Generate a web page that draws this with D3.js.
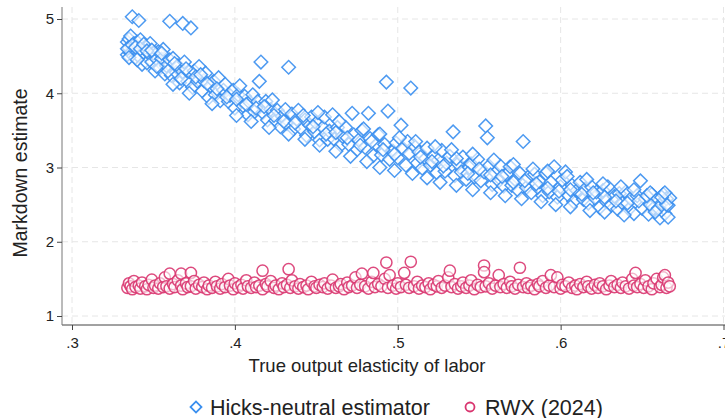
<!DOCTYPE html>
<html>
<head>
<meta charset="utf-8">
<script src="https://cdn.jsdelivr.net/npm/d3@7"></script>
<style>
  body { margin: 0; background: #fff; }
  svg { display: block; font-family: "Liberation Sans", Arial, sans-serif; }
</style>
</head>
<body>
<div id="chart"></div>
<script>
// values, [elasticity, markdown]
var hicks = [
  [0.334,4.69],[0.334,4.52],[0.335,4.73],[0.335,4.61],[0.336,4.77],[0.336,4.54],[0.337,5.03],[0.338,4.67],
  [0.339,4.48],[0.340,4.69],[0.341,4.98],[0.341,4.50],[0.342,4.72],[0.343,4.39],[0.344,4.55],[0.345,4.62],
  [0.346,4.41],[0.347,4.54],[0.348,4.67],[0.349,4.42],[0.350,4.54],[0.351,4.30],[0.352,4.46],[0.353,4.56],
  [0.354,4.34],[0.355,4.46],[0.356,4.59],[0.357,4.26],[0.358,4.37],[0.360,4.97],[0.360,4.45],[0.361,4.24],
  [0.362,4.47],[0.364,4.28],[0.365,4.37],[0.366,4.14],[0.368,4.94],[0.368,4.29],[0.369,4.42],[0.371,4.16],
  [0.372,4.29],[0.373,4.88],[0.374,4.08],[0.375,4.30],[0.377,4.16],[0.378,4.36],[0.380,4.03],[0.381,4.17],
  [0.382,4.27],[0.384,3.94],[0.385,4.10],[0.387,4.16],[0.388,3.98],[0.390,4.21],[0.391,3.90],[0.393,4.04],
  [0.394,4.12],[0.396,3.89],[0.397,3.97],[0.399,4.04],[0.400,3.80],[0.402,3.98],[0.403,4.10],[0.405,3.83],
  [0.406,3.96],[0.408,3.71],[0.409,3.88],[0.411,3.98],[0.412,3.75],[0.414,3.89],[0.415,4.16],[0.416,4.42],
  [0.417,3.74],[0.419,3.89],[0.420,3.64],[0.422,3.78],[0.423,3.91],[0.425,3.63],[0.426,3.77],[0.428,3.55],
  [0.429,3.69],[0.431,3.78],[0.432,3.59],[0.433,4.35],[0.435,3.72],[0.436,3.52],[0.438,3.65],[0.439,3.77],
  [0.441,3.52],[0.443,3.64],[0.444,3.43],[0.446,3.57],[0.447,3.68],[0.449,3.48],[0.450,3.60],[0.452,3.37],
  [0.454,3.54],[0.455,3.68],[0.457,3.38],[0.458,3.49],[0.460,3.71],[0.461,3.38],[0.463,3.54],[0.465,3.30],
  [0.466,3.42],[0.468,3.54],[0.470,3.31],[0.472,3.73],[0.473,3.44],[0.475,3.24],[0.476,3.37],[0.478,3.50],
  [0.480,3.27],[0.482,3.73],[0.483,3.39],[0.485,3.16],[0.487,3.31],[0.488,3.44],[0.490,3.17],[0.492,3.31],
  [0.493,4.15],[0.494,3.76],[0.495,3.11],[0.497,3.22],[0.499,3.33],[0.500,3.13],[0.502,3.57],[0.503,3.26],
  [0.505,3.03],[0.507,3.19],[0.508,4.07],[0.510,3.29],[0.512,3.06],[0.513,3.21],[0.515,2.99],[0.517,3.12],
  [0.518,3.26],[0.520,3.03],[0.522,3.15],[0.524,2.93],[0.525,3.10],[0.527,3.23],[0.529,2.95],[0.530,3.06],
  [0.532,3.15],[0.534,3.48],[0.535,2.89],[0.537,3.05],[0.539,2.94],[0.540,3.14],[0.542,2.84],[0.544,3.00],
  [0.545,3.05],[0.547,2.87],[0.549,3.11],[0.551,2.82],[0.553,2.94],[0.554,3.56],[0.555,3.40],[0.556,3.02],
  [0.558,2.77],[0.560,2.93],[0.562,2.82],[0.563,3.02],[0.565,2.75],[0.567,2.91],[0.569,3.01],[0.570,2.76],
  [0.572,2.84],[0.574,2.69],[0.575,2.92],[0.577,3.35],[0.579,2.73],[0.580,2.87],[0.582,2.66],[0.584,2.91],
  [0.586,2.73],[0.587,2.81],[0.589,2.62],[0.591,2.92],[0.593,2.67],[0.594,2.80],[0.596,3.01],[0.598,2.60],
  [0.600,2.74],[0.601,2.83],[0.603,2.94],[0.605,2.62],[0.607,2.76],[0.608,2.54],[0.610,2.69],[0.612,2.80],
  [0.614,2.57],[0.615,2.71],[0.617,2.52],[0.619,2.74],[0.621,2.59],[0.622,2.67],[0.624,2.46],[0.626,2.69],
  [0.628,2.54],[0.629,2.74],[0.631,2.49],[0.633,2.61],[0.635,2.44],[0.636,2.65],[0.638,2.52],[0.640,2.67],
  [0.642,2.44],[0.643,2.58],[0.645,2.38],[0.647,2.62],[0.649,2.82],[0.650,2.45],[0.652,2.58],[0.654,2.37],
  [0.656,2.64],[0.657,2.45],[0.659,2.57],[0.661,2.32],[0.662,2.52],[0.663,2.64],[0.664,2.38],[0.665,2.58],
  [0.666,2.33],[0.666,2.49],[0.667,2.59],
  [0.334,4.60],[0.335,4.48],[0.337,4.65],[0.339,4.62],[0.340,4.45],[0.342,4.60],[0.344,4.66],[0.346,4.57],
  [0.349,4.58],[0.352,4.36],[0.355,4.54],[0.359,4.30],[0.363,4.40],[0.367,4.20],[0.370,4.33],[0.376,4.22],
  [0.379,4.25],[0.383,4.13],[0.389,4.06],[0.395,3.95],[0.401,3.92],[0.407,3.85],[0.413,3.80],[0.418,3.82],
  [0.424,3.70],[0.430,3.62],[0.437,3.60],[0.442,3.70],[0.448,3.55],[0.456,3.45],[0.462,3.47],[0.469,3.40],
  [0.477,3.30],[0.484,3.35],[0.491,3.24],[0.498,3.18],[0.506,3.35],[0.514,3.14],[0.521,3.08],[0.528,3.02],
  [0.536,3.12],[0.543,2.92],[0.550,2.98],[0.557,2.90],[0.564,2.88],[0.571,2.80],[0.578,2.82],[0.585,2.78],
  [0.592,2.72],[0.599,2.68],[0.606,2.70],[0.613,2.64],[0.620,2.66],[0.627,2.60],[0.634,2.55],[0.641,2.52],
  [0.648,2.55],[0.655,2.50],[0.660,2.45],[0.665,2.50],[0.662,2.60],[0.658,2.40],[0.653,2.62],
  [0.362,4.12],[0.372,4.00],[0.386,3.86],[0.401,3.70],[0.410,3.62],[0.421,3.54],[0.433,3.45],[0.443,3.38],
  [0.452,3.30],[0.462,3.22],[0.471,3.15],[0.481,3.08],[0.489,3.00],[0.498,2.96],[0.509,2.92],[0.518,2.86],
  [0.526,2.80],[0.536,2.76],[0.546,2.70],[0.557,2.66],[0.566,2.62],[0.576,2.58],[0.588,2.54],[0.597,2.50],
  [0.606,2.47],[0.618,2.42],[0.627,2.40],[0.639,2.36],
  [0.451,3.74],[0.464,3.62],[0.479,3.52],[0.489,3.45],[0.501,3.40],[0.511,3.35],[0.523,3.28],[0.533,3.24],
  [0.546,3.18],[0.559,3.10],[0.571,3.04],[0.583,2.98],[0.592,2.95],[0.604,2.88],[0.616,2.84],[0.626,2.78],
  [0.637,2.74],[0.645,2.70],[0.655,2.66],[0.664,2.66]
];

var rwx = [
  [0.334,1.38],[0.335,1.44],[0.336,1.40],[0.337,1.36],[0.338,1.47],[0.339,1.39],[0.341,1.41],[0.342,1.37],
  [0.343,1.45],[0.345,1.40],[0.346,1.36],[0.347,1.42],[0.349,1.49],[0.350,1.38],[0.351,1.41],[0.353,1.37],
  [0.354,1.44],[0.356,1.39],[0.357,1.52],[0.358,1.40],[0.360,1.57],[0.360,1.37],[0.362,1.43],[0.363,1.39],
  [0.365,1.48],[0.367,1.57],[0.367,1.41],[0.368,1.36],[0.370,1.44],[0.371,1.39],[0.373,1.58],[0.373,1.40],
  [0.375,1.47],[0.376,1.37],[0.378,1.42],[0.380,1.39],[0.381,1.45],[0.383,1.36],[0.384,1.41],[0.386,1.38],
  [0.388,1.46],[0.389,1.40],[0.391,1.37],[0.392,1.43],[0.394,1.39],[0.396,1.50],[0.397,1.41],[0.399,1.36],
  [0.400,1.44],[0.402,1.39],[0.404,1.42],[0.405,1.37],[0.407,1.48],[0.408,1.40],[0.410,1.38],[0.412,1.45],
  [0.413,1.39],[0.415,1.41],[0.417,1.61],[0.417,1.36],[0.419,1.43],[0.420,1.40],[0.422,1.47],[0.424,1.38],
  [0.425,1.41],[0.427,1.36],[0.429,1.44],[0.430,1.39],[0.432,1.42],[0.433,1.63],[0.434,1.38],[0.435,1.48],
  [0.437,1.40],[0.439,1.37],[0.440,1.43],[0.442,1.39],[0.444,1.41],[0.445,1.36],[0.447,1.46],[0.449,1.40],
  [0.450,1.38],[0.452,1.42],[0.454,1.39],[0.455,1.44],[0.457,1.37],[0.459,1.41],[0.460,1.49],[0.462,1.38],
  [0.464,1.40],[0.465,1.43],[0.467,1.36],[0.469,1.45],[0.470,1.39],[0.472,1.41],[0.474,1.52],[0.475,1.38],
  [0.477,1.42],[0.478,1.57],[0.480,1.40],[0.482,1.37],[0.484,1.46],[0.485,1.58],[0.486,1.39],[0.488,1.43],
  [0.490,1.40],[0.492,1.50],[0.493,1.72],[0.494,1.38],[0.495,1.55],[0.497,1.41],[0.499,1.37],[0.500,1.44],
  [0.502,1.39],[0.504,1.58],[0.505,1.42],[0.507,1.38],[0.508,1.73],[0.510,1.40],[0.512,1.46],[0.513,1.37],
  [0.515,1.41],[0.517,1.39],[0.519,1.44],[0.520,1.36],[0.522,1.42],[0.524,1.40],[0.525,1.47],[0.527,1.38],
  [0.529,1.41],[0.531,1.52],[0.532,1.61],[0.533,1.39],[0.535,1.43],[0.537,1.37],[0.539,1.40],[0.540,1.45],
  [0.542,1.38],[0.544,1.41],[0.545,1.48],[0.547,1.36],[0.549,1.42],[0.551,1.39],[0.553,1.68],[0.553,1.59],
  [0.554,1.40],[0.556,1.44],[0.558,1.37],[0.560,1.41],[0.562,1.55],[0.563,1.39],[0.565,1.43],[0.567,1.38],
  [0.569,1.46],[0.570,1.40],[0.572,1.37],[0.574,1.42],[0.575,1.65],[0.577,1.39],[0.579,1.44],[0.580,1.38],
  [0.582,1.41],[0.584,1.36],[0.586,1.43],[0.587,1.40],[0.589,1.47],[0.591,1.38],[0.593,1.41],[0.594,1.55],
  [0.596,1.39],[0.598,1.52],[0.600,1.37],[0.601,1.42],[0.603,1.40],[0.605,1.45],[0.607,1.38],[0.609,1.41],
  [0.610,1.36],[0.612,1.43],[0.614,1.39],[0.616,1.46],[0.617,1.40],[0.619,1.37],[0.621,1.42],[0.623,1.38],
  [0.624,1.44],[0.626,1.40],[0.628,1.36],[0.630,1.41],[0.631,1.47],[0.633,1.39],[0.635,1.42],[0.637,1.38],
  [0.638,1.45],[0.640,1.40],[0.642,1.37],[0.644,1.50],[0.645,1.41],[0.646,1.58],[0.647,1.39],[0.649,1.43],
  [0.651,1.38],[0.652,1.48],[0.654,1.40],[0.656,1.36],[0.657,1.44],[0.659,1.50],[0.661,1.39],[0.662,1.42],
  [0.663,1.52],[0.664,1.55],[0.665,1.38],[0.666,1.45],[0.667,1.40]
];

var xTicks = [0.3, 0.4, 0.5, 0.6, 0.7];
var yTicks = [1, 2, 3, 4, 5];
var seriesNames = ['Hicks-neutral estimator', 'RWX (2024)'];

var W = 725, H = 418;
var blue = '#3a8fef', pink = '#d93670';

var x = d3.scaleLinear().domain([0.3, 0.7]).range([72, 723.5]);
var y = d3.scaleLinear().domain([1, 5]).range([316, 19]);

var svg = d3.select('#chart').append('svg')
    .attr('width', W)
    .attr('height', H);

// grid
var x0 = 62, yBottom = 325;
svg.append('g').selectAll('line.h')
    .data(yTicks).enter().append('line')
    .attr('x1', x0).attr('x2', W)
    .attr('y1', function (d) { return y(d); }).attr('y2', function (d) { return y(d); })
    .attr('stroke', '#e6e6e6').attr('stroke-width', 1).attr('stroke-dasharray', '6,4');
svg.append('g').selectAll('line.v')
    .data(xTicks).enter().append('line')
    .attr('y1', 7).attr('y2', yBottom)
    .attr('x1', function (d) { return x(d); }).attr('x2', function (d) { return x(d); })
    .attr('stroke', '#e6e6e6').attr('stroke-width', 1).attr('stroke-dasharray', '6,4');

// points
var diamond = d3.symbol().type(d3.symbolSquare).size(92);
svg.append('g').selectAll('path')
    .data(hicks).enter().append('path')
    .attr('d', diamond)
    .attr('transform', function (d) { return 'translate(' + x(d[0]) + ',' + y(d[1]) + ') rotate(45)'; })
    .attr('fill', '#fff').attr('fill-opacity', 0.6)
    .attr('stroke', blue).attr('stroke-width', 1.5).attr('stroke-opacity', 0.9);

svg.append('g').selectAll('circle')
    .data(rwx).enter().append('circle')
    .attr('cx', function (d) { return x(d[0]); })
    .attr('cy', function (d) { return y(d[1]); })
    .attr('r', 5.6)
    .attr('fill', '#fff').attr('fill-opacity', 0.6)
    .attr('stroke', pink).attr('stroke-width', 1.5).attr('stroke-opacity', 0.9);

// axes
var xAxis = svg.append('g')
    .attr('transform', 'translate(0,' + yBottom + ')')
    .call(d3.axisBottom(x).tickValues(xTicks).tickSize(5).tickSizeOuter(0)
        .tickFormat(function (d) { return d3.format('.1f')(d).replace(/^0/, ''); }));
xAxis.select('.domain').attr('d', 'M' + x0 + ',0H' + W).attr('stroke', '#444');

var yAxis = svg.append('g')
    .attr('transform', 'translate(' + x0 + ',0)')
    .call(d3.axisLeft(y).tickValues(yTicks).tickSize(5).tickSizeOuter(0).tickFormat(d3.format('d')));
yAxis.select('.domain').attr('d', 'M0,7V' + yBottom).attr('stroke', '#777');

svg.selectAll('.tick line').attr('stroke', '#444');
svg.selectAll('.tick text').attr('font-size', 15).attr('fill', '#222')
    .attr('font-family', '"Liberation Sans", Arial, sans-serif');
xAxis.selectAll('.tick text').attr('dy', '1.0em');

// axis titles
svg.append('text')
    .attr('x', 367).attr('y', 372)
    .attr('text-anchor', 'middle')
    .attr('font-size', 18.5).attr('fill', '#222')
    .text('True output elasticity of labor');

svg.append('text')
    .attr('transform', 'translate(27,173) rotate(-90)')
    .attr('text-anchor', 'middle')
    .attr('font-size', 19.5).attr('fill', '#222')
    .text('Markdown estimate');

// legend
var lg = svg.append('g').attr('transform', 'translate(0,407)');
lg.append('path')
    .attr('d', d3.symbol().type(d3.symbolSquare).size(60))
    .attr('transform', 'translate(196,0) rotate(45)')
    .attr('fill', 'none').attr('stroke', blue).attr('stroke-width', 1.8);
lg.append('text').attr('x', 210).attr('y', 7.5).attr('font-size', 21.5).attr('fill', '#222').text(seriesNames[0]);
lg.append('circle').attr('cx', 470).attr('cy', 0).attr('r', 4.5)
    .attr('fill', 'none').attr('stroke', pink).attr('stroke-width', 1.8);
lg.append('text').attr('x', 485).attr('y', 7.5).attr('font-size', 21.5).attr('fill', '#222').text(seriesNames[1]);
</script>
</body>
</html>
